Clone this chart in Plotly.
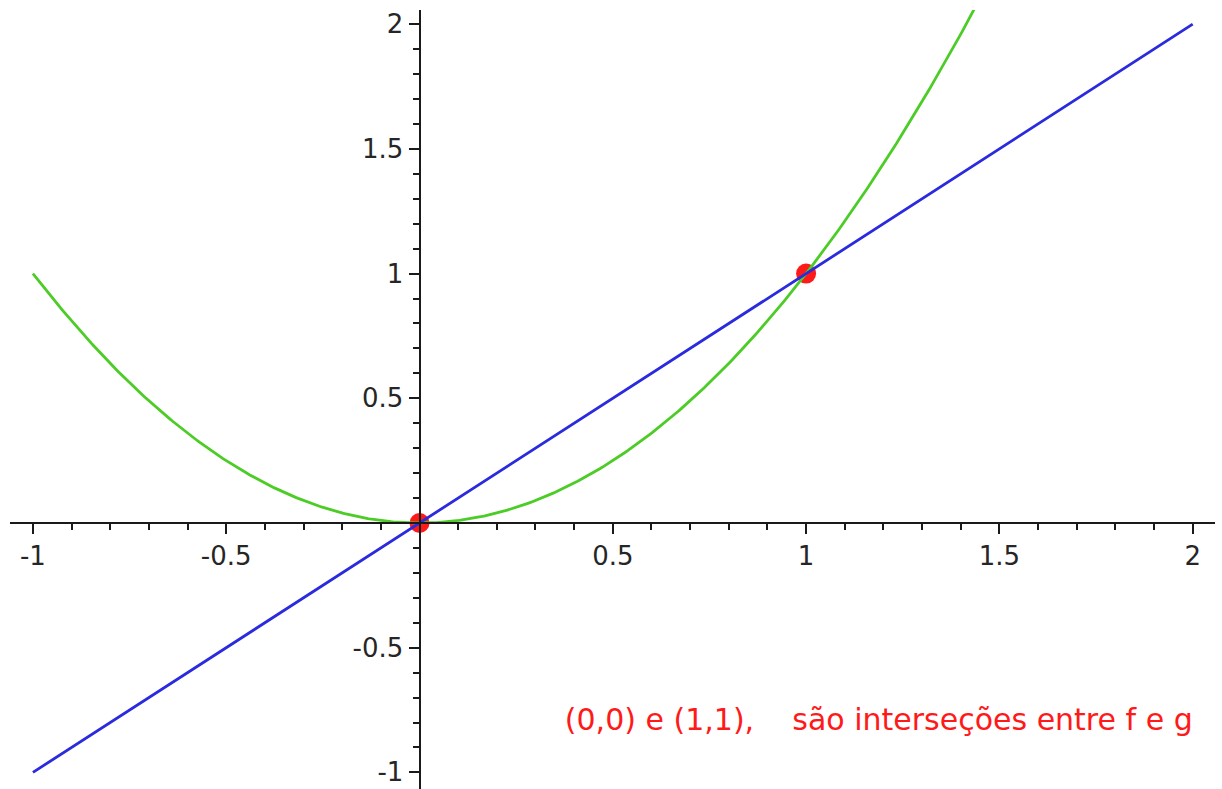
import numpy as np
import plotly.graph_objects as go

# Functions being compared
def f(x):
    return x ** 2

def g(x):
    return x

# Plot domain and intersection points
x_domain = [-1.0, 2.0]
inter_x = [0, 1]
inter_y = [0, 1]

# Tick labels
x_ticks = [-1, -0.5, 0.5, 1, 1.5, 2]
x_ticktext = ["-1", "-0.5", "0.5", "1", "1.5", "2"]
y_ticks = [-1, -0.5, 0.5, 1, 1.5, 2]
y_ticktext = ["-1", "-0.5", "0.5", "1", "1.5", "2"]

note = "(0,0) e (1,1),\u00a0\u00a0\u00a0\u00a0são interseções entre f e g"
note_x, note_y = 2, -0.8

xs = np.linspace(x_domain[0], x_domain[1], 600)

X_RANGE = [-1.0593, 2.0577]
Y_RANGE = [-1.0666, 2.0569]

GREEN = "#4ccc26"
BLUE = "#2a2ade"
RED = "#ff1a1a"
FONT = "DejaVu Sans"

fig = go.Figure()

fig.add_trace(go.Scatter(
    x=inter_x, y=inter_y, mode="markers",
    marker=dict(color=RED, size=20, line=dict(width=0)),
    hoverinfo="skip",
))
fig.add_trace(go.Scatter(
    x=xs, y=f(xs), mode="lines",
    line=dict(color=GREEN, width=2.8),
))
fig.add_trace(go.Scatter(
    x=xs, y=g(xs), mode="lines",
    line=dict(color=BLUE, width=2.8),
))
fig.add_trace(go.Scatter(
    x=[note_x], y=[note_y], mode="text",
    text=[note], textposition="middle left",
    textfont=dict(family=FONT, size=30, color=RED),
    hoverinfo="skip",
))

# Axes cross at the origin
x_pos = (0 - Y_RANGE[0]) / (Y_RANGE[1] - Y_RANGE[0])
y_pos = (0 - X_RANGE[0]) / (X_RANGE[1] - X_RANGE[0])

axis_common = dict(
    showgrid=False, zeroline=False, showline=True,
    linecolor="#1a1a1a", linewidth=2,
    ticks="outside", ticklen=10, tickwidth=2, tickcolor="#1a1a1a",
    tickfont=dict(family=FONT, size=26, color="#262626"),
    anchor="free",
    minor=dict(ticks="outside", dtick=0.1, ticklen=6, tickwidth=2,
               tickcolor="#1a1a1a", showgrid=False),
)

fig.update_layout(
    width=1222, height=789,
    margin=dict(l=10, r=7, t=10, b=0),
    plot_bgcolor="white", paper_bgcolor="white",
    showlegend=False,
    xaxis=dict(range=X_RANGE, tickvals=x_ticks, ticktext=x_ticktext,
               position=x_pos, side="bottom", **axis_common),
    yaxis=dict(range=Y_RANGE, tickvals=y_ticks, ticktext=y_ticktext,
               position=y_pos, side="left", **axis_common),
)

fig.write_html("out.html")
